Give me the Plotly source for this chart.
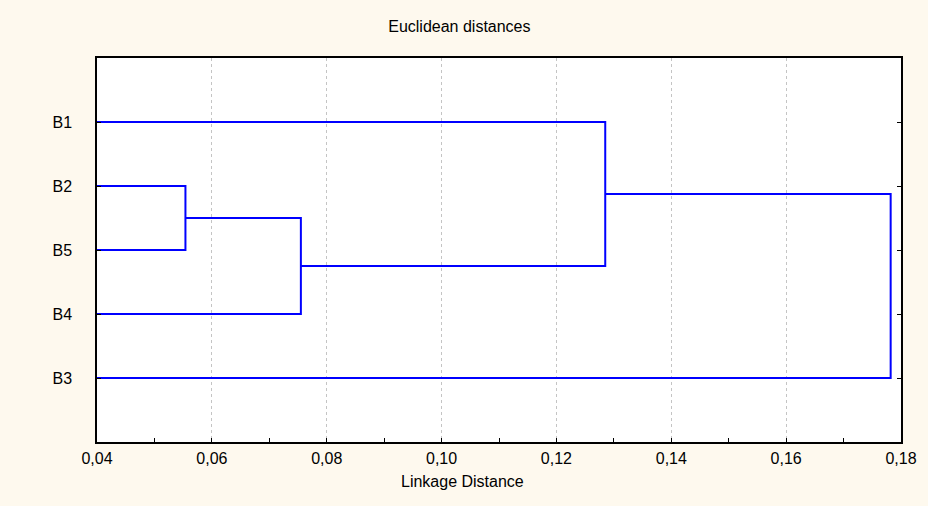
import plotly.graph_objects as go

# Leaves in display order (top to bottom)
leaves = ["B1", "B2", "B5", "B4", "B3"]
# Linkage: clusters 0..4 are leaves, new clusters get ids 5, 6, 7, 8
merge_a = [1, 5, 0, 7]
merge_b = [2, 3, 6, 4]
merge_dist = [0.0554, 0.0755, 0.1285, 0.1782]

x_ticks = [0.04, 0.06, 0.08, 0.10, 0.12, 0.14, 0.16, 0.18]

# positions of clusters
pos_y = {i: i + 1 for i in range(len(leaves))}
pos_x = {i: 0.0 for i in range(len(leaves))}
xs, ys = [], []
for k, (a, b, d) in enumerate(zip(merge_a, merge_b, merge_dist)):
    cid = len(leaves) + k
    xs += [pos_x[a], d, d, pos_x[b], None]
    ys += [pos_y[a], pos_y[a], pos_y[b], pos_y[b], None]
    pos_x[cid] = d
    pos_y[cid] = (pos_y[a] + pos_y[b]) / 2

FONT = "Liberation Sans, Arial, sans-serif"
FS = 16

fig = go.Figure()
fig.add_trace(go.Scatter(x=xs, y=ys, mode="lines",
                         line=dict(color="#0000FF", width=2),
                         hoverinfo="skip", showlegend=False))

fig.update_layout(
    width=928, height=506,
    paper_bgcolor="#FEF9EE", plot_bgcolor="#FFFFFF",
    margin=dict(l=97, r=27, t=58, b=64),
    separators=",.",
    font=dict(family=FONT, size=FS, color="#000000"),
    title=dict(text="Euclidean distances", x=0.495, xref="container",
               xanchor="center", y=0.947, yref="container", yanchor="middle",
               font=dict(family=FONT, size=FS, color="#000000")),
    annotations=[dict(text="Linkage Distance", xref="paper", yref="paper",
                      x=0.454, y=-0.104, xanchor="center", yanchor="middle",
                      showarrow=False,
                      font=dict(family=FONT, size=FS, color="#000000"))],
)
fig.update_xaxes(
    range=[0.04, 0.18], tickvals=x_ticks, tickformat=".2f",
    showgrid=True, gridcolor="#C4C4C4", griddash="dot", gridwidth=1,
    zeroline=False,
    showline=True, linecolor="#000000", linewidth=1.5, mirror=True,
    ticks="inside", ticklen=4, tickwidth=1.2, tickcolor="#000000",
    ticklabelstandoff=1,
    minor=dict(dtick=0.01, tick0=0.04, ticks="inside", ticklen=4,
               tickwidth=1.2, tickcolor="#000000", showgrid=False),
)
fig.update_yaxes(
    range=[6, 0], tickvals=list(range(1, len(leaves) + 1)), ticktext=leaves,
    showgrid=False, zeroline=False,
    showline=True, linecolor="#000000", linewidth=1.5, mirror="ticks",
    ticks="inside", ticklen=4, tickwidth=1.2, tickcolor="#000000",
    ticklabelstandoff=20,
)

fig.write_html("out.html",
               config={"displayModeBar": False},
               post_script="document.body.style.margin='0';"
                           "document.body.style.overflow='hidden';")
